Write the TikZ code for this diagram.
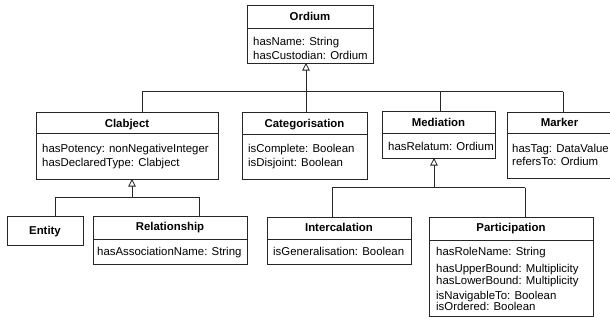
\documentclass[tikz,border=0pt]{standalone}
\usepackage{fontspec}
\setmainfont{Liberation Sans}
\usetikzlibrary{arrows.meta}
\newcommand{\umlfont}{\fontsize{11.4}{13.7}\selectfont}
\begin{document}
\begin{tikzpicture}[x=1pt,y=-1pt,
 cls/.style={draw=black!85, line width=0.8pt, inner sep=0pt, outer sep=0pt, anchor=north west},
 ttl/.style={font=\umlfont\bfseries, inner sep=0pt, anchor=base},
 att/.style={font=\umlfont, inner sep=0pt, anchor=base west},
 conn/.style={draw=black!85, line width=0.8pt},
 gen/.style={conn, -{Triangle[open, length=7.5pt, width=7.5pt, line width=0.8pt]}}]
\useasboundingbox (0,0) rectangle (610,324);
\clip (0,0) rectangle (610,324);
\fill[white] (0,0) rectangle (610,324);

% Ordium
\node[cls, minimum width=126pt, minimum height=58pt] (Ordium) at (247,5) {};
\draw[conn] (247,28.5) -- (373,28.5);
\node[ttl] (OrdiumT) at (310,20.5) {Ordium};
\node[att] (OrdiumA1) at (253,45.5) {hasName: String};
\node[att] (OrdiumA2) at (253,59.5) {hasCustodian: Ordium};

% Clabject
\node[cls, minimum width=182pt, minimum height=67pt] (Clabject) at (36,112) {};
\draw[conn] (36,133.5) -- (218,133.5);
\node[ttl] (ClabjectT) at (127,127) {Clabject};
\node[att] (ClabjectA1) at (42,152) {hasPotency: nonNegativeInteger};
\node[att] (ClabjectA2) at (42,166) {hasDeclaredType: Clabject};

% Categorisation
\node[cls, minimum width=125pt, minimum height=67pt] (Categorisation) at (242,112) {};
\draw[conn] (242,134) -- (367,134);
\node[ttl] (CategorisationT) at (304.5,127) {Categorisation};
\node[att] (CategorisationA1) at (248,152.5) {isComplete: Boolean};
\node[att] (CategorisationA2) at (248,166) {isDisjoint: Boolean};

% Mediation
\node[cls, minimum width=113pt, minimum height=47pt] (Mediation) at (382,111) {};
\draw[conn] (382,133) -- (495,133);
\node[ttl] (MediationT) at (438.5,126) {Mediation};
\node[att] (MediationA1) at (388,150) {hasRelatum: Ordium};

% Marker
\node[cls, minimum width=105pt, minimum height=66pt] (Marker) at (507,112) {};
\draw[conn] (507,133) -- (612,133);
\node[ttl] (MarkerT) at (559.5,126) {Marker};
\node[att] (MarkerA1) at (512,152) {hasTag: DataValue};
\node[att] (MarkerA2) at (512,165.7) {refersTo: Ordium};

% Entity
\node[cls, minimum width=76pt, minimum height=29pt] (Entity) at (7,216) {};
\node[ttl] (EntityT) at (45,234.7) {Entity};

% Relationship
\node[cls, minimum width=154pt, minimum height=48pt] (Relationship) at (93,216) {};
\draw[conn] (93,239.5) -- (247,239.5);
\node[ttl] (RelationshipT) at (170,230.7) {Relationship};
\node[att] (RelationshipA1) at (97,255.7) {hasAssociationName: String};

% Intercalation
\node[cls, minimum width=144pt, minimum height=47pt] (Intercalation) at (267,217) {};
\draw[conn] (267,239.5) -- (411,239.5);
\node[ttl] (IntercalationT) at (339,231) {Intercalation};
\node[att] (IntercalationA1) at (273,255.7) {isGeneralisation: Boolean};

% Participation
\node[cls, minimum width=164pt, minimum height=99pt] (Participation) at (429,217) {};
\draw[conn] (429,240) -- (593,240);
\node[ttl] (ParticipationT) at (511,231.3) {Participation};
\node[att] (ParticipationA1) at (436,255.7) {hasRoleName: String};
\node[att] (ParticipationA2) at (436,272.3) {hasUpperBound: Multiplicity};
\node[att] (ParticipationA3) at (436,284) {hasLowerBound: Multiplicity};
\node[att] (ParticipationA4) at (436,299) {isNavigableTo: Boolean};
\node[att] (ParticipationA5) at (436,310.7) {isOrdered: Boolean};

% Generalisation to Ordium
\coordinate (o1) at (306,91.5);
\coordinate (oL) at (142,91.5);
\coordinate (oR) at (563,91.5);
\coordinate (o3) at (440,91.5);
\draw[gen] (o1) -- (o1 |- Ordium.south);
\draw[conn] (oL) -- (oR);
\draw[conn] (oL) -- (oL |- Clabject.north);
\draw[conn] (o1) -- (o1 |- Categorisation.north);
\draw[conn] (o3) -- (o3 |- Mediation.north);
\draw[conn] (oR) -- (oR |- Marker.north);

% Generalisation to Clabject
\coordinate (c1) at (132,197);
\coordinate (cL) at (55,197);
\coordinate (cR) at (199,197);
\draw[gen] (c1) -- (c1 |- Clabject.south);
\draw[conn] (cL) -- (cR);
\draw[conn] (cL) -- (cL |- Entity.north);
\draw[conn] (cR) -- (cR |- Relationship.north);

% Generalisation to Mediation
\coordinate (m1) at (434,187.5);
\coordinate (mL) at (332,187.5);
\coordinate (mR) at (525,187.5);
\coordinate (mT) at (392,187.5);
\draw[gen] (m1) -- (m1 |- Mediation.south);
\draw[conn] (mL) -- (mR);
\draw[conn, line width=1.8pt] (mT) -- (m1);
\draw[conn] (mL) -- (mL |- Intercalation.north);
\draw[conn] (mR) -- (mR |- Participation.north);
\end{tikzpicture}
\end{document}
